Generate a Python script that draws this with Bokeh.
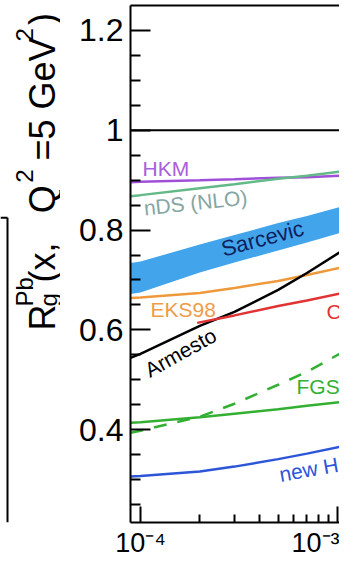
import math
from bokeh.plotting import figure
from bokeh.models import (Span, Label, LogAxis, FixedTicker, Range1d,
                          ColumnDataSource)
from bokeh.layouts import row
from bokeh.embed import file_html
from bokeh.resources import INLINE
from bokeh.core.properties import value

# ---------------- data ----------------
x_pts = [8.9e-5, 1e-4, 2e-4, 3e-4, 5e-4, 7e-4, 1.07e-3]
hkm = [0.896, 0.897, 0.900, 0.902, 0.905, 0.906, 0.909]
nds = [0.868, 0.870, 0.884, 0.892, 0.903, 0.909, 0.918]
sarcevic_lo = [0.672, 0.675, 0.715, 0.735, 0.759, 0.775, 0.796]
sarcevic_hi = [0.734, 0.737, 0.771, 0.790, 0.814, 0.828, 0.848]
eks98 = [0.664, 0.665, 0.674, 0.684, 0.698, 0.710, 0.726]
armesto = [0.544, 0.552, 0.608, 0.636, 0.680, 0.714, 0.760]
fgs_dash = [0.394, 0.398, 0.426, 0.452, 0.490, 0.516, 0.556]
fgs_solid = [0.414, 0.415, 0.425, 0.432, 0.441, 0.448, 0.456]
new_h = [0.306, 0.307, 0.316, 0.326, 0.341, 0.352, 0.367]
red_x = [1.94e-4, 3e-4, 5e-4, 7e-4, 1.07e-3]
red_y = [0.614, 0.629, 0.648, 0.659, 0.674]

y_major = [0.4, 0.6, 0.8, 1.0, 1.2]
y_major_labels = ["0.4", "0.6", "0.8", "1", "1.2"]
y_minor = [0.25, 0.3, 0.35, 0.45, 0.5, 0.55, 0.65, 0.7, 0.75, 0.85, 0.9,
           0.95, 1.05, 1.1, 1.15]
x_major = [1e-4, 1e-3]
x_major_labels = ["10\u207b\u2074", "10\u207b\u00b3"]
x_minor = [2e-4, 3e-4, 4e-4, 5e-4, 6e-4, 7e-4, 8e-4, 9e-4]

# y-axis title pieces (rotated, reading upwards)
title_text = ["R", "g", "Pb", "(x,", "Q", "2", "=5 GeV", "2", ")"]
title_size = ["36px", "24px", "24px", "36px", "36px", "24px", "36px", "24px",
              "36px"]
title_px = [42, 48, 24, 42, 42, 24, 42, 24, 42]
title_py = [352, 326, 326, 300, 225, 192, 168, 39, 21]

FONT = "Liberation Sans"
H = 560

# ---------------- left strip: axis title + neighbouring frame edge --------
tf = figure(width=60, height=H, x_range=Range1d(0, 60), y_range=Range1d(0, H),
            output_backend="svg", toolbar_location=None,
            x_axis_location=None, y_axis_location=None,
            min_border=0, min_border_left=0, min_border_right=0,
            min_border_top=0, min_border_bottom=0, outline_line_color=None,
            background_fill_color="white", border_fill_color="white")
tf.grid.visible = False
tsrc = ColumnDataSource(dict(x=title_px, y=[H - v for v in title_py],
                             t=title_text, s=title_size))
tf.text(x="x", y="y", text="t", source=tsrc, angle=math.pi / 2,
        text_font=value(FONT), text_font_size="s", text_color="black",
        text_align="left", text_baseline="alphabetic")
tf.segment(x0=[7, 0], y0=[H - 230, H - 230], x1=[7, 7], y1=[0, H - 230],
           line_color="black", line_width=2)

# ---------------- main plot ----------------
def sx(px):
    return px - 130

def sy(py):
    return 523 - py

p = figure(width=279, height=H, x_axis_type="log",
           x_range=Range1d(8.9e-5, 1.0238e-3), y_range=Range1d(0.214, 1.25),
           output_backend="svg", toolbar_location=None,
           min_border_left=70, min_border_right=0, min_border_top=5,
           min_border_bottom=37, outline_line_color=None,
           background_fill_color="white", border_fill_color="white")
p.grid.visible = False

xa = p.xaxis[0]
xa.ticker = FixedTicker(ticks=x_major, minor_ticks=x_minor)
xa.major_label_overrides = dict(zip(x_major, x_major_labels))
xa.major_tick_in = 16
xa.major_tick_out = 0
xa.minor_tick_in = 8
xa.minor_tick_out = 0
xa.axis_line_width = 2
xa.major_tick_line_width = 2
xa.minor_tick_line_width = 2
xa.major_label_text_font = FONT
xa.major_label_text_font_size = "27px"
xa.major_label_text_color = "black"
xa.major_label_standoff = 5

ya = p.yaxis[0]
ya.ticker = FixedTicker(ticks=y_major, minor_ticks=y_minor)
ya.major_label_overrides = dict(zip(y_major, y_major_labels))
ya.major_tick_in = 20
ya.major_tick_out = 0
ya.minor_tick_in = 10
ya.minor_tick_out = 0
ya.axis_line_width = 2
ya.major_tick_line_width = 2
ya.minor_tick_line_width = 2
ya.major_label_text_font = FONT
ya.major_label_text_font_size = "32px"
ya.major_label_text_color = "black"
ya.major_label_standoff = 7

top = LogAxis(ticker=FixedTicker(ticks=[]), axis_line_width=2,
              major_tick_in=0, major_tick_out=0, minor_tick_in=0,
              minor_tick_out=0, major_label_standoff=0)
p.add_layout(top, "above")

p.add_layout(Span(location=1.0, dimension="width", line_color="black",
                  line_width=2))

src = ColumnDataSource(dict(x=x_pts, hkm=hkm, nds=nds, lo=sarcevic_lo,
                            hi=sarcevic_hi, eks=eks98, arm=armesto,
                            fd=fgs_dash, fs=fgs_solid, nh=new_h))
p.varea(x="x", y1="lo", y2="hi", source=src, fill_color="#42a5ec")
p.line("x", "hkm", source=src, line_color="#a050d8", line_width=2.5)
p.line("x", "nds", source=src, line_color="#63b987", line_width=2.5)
p.line("x", "eks", source=src, line_color="#ee9a3c", line_width=2.5)
p.line("x", "arm", source=src, line_color="black", line_width=2.5)
p.line(red_x, red_y, line_color="#e03333", line_width=2.5)
p.line("x", "fd", source=src, line_color="#33b033", line_width=2.5,
       line_dash="13 11")
p.line("x", "fs", source=src, line_color="#33b033", line_width=2.5)
p.line("x", "nh", source=src, line_color="#2c55d8", line_width=2.5)

def lab(text, px, py, size, color="black", angle=0.0, align="left",
        baseline="alphabetic"):
    p.add_layout(Label(x=sx(px), y=sy(py), x_units="screen",
                       y_units="screen", text=text, angle=angle,
                       text_font=FONT, text_font_size=f"{size}px",
                       text_color=color, text_align=align,
                       text_baseline=baseline))

lab("HKM", 142, 169, 21, "#a860dc")
lab("nDS (NLO)", 195, 203, 21, "#86a6a4", math.radians(6), "center", "middle")
lab("Sarcevic", 262, 239, 22, "#0f1f5c", math.radians(15), "center", "middle")
lab("EKS98", 150, 310, 21, "#ee9c48")
lab("Armesto", 180, 353, 21, "black", math.radians(29), "center", "middle")
lab("C", 326, 312, 21, "#e03333")
lab("FGS", 296, 387, 21, "#33b033")
lab("new H", 279, 475, 21, "#2c55d8", math.radians(10))

layout = row(tf, p, spacing=0)
open("out.html", "w").write(file_html(layout, INLINE))
